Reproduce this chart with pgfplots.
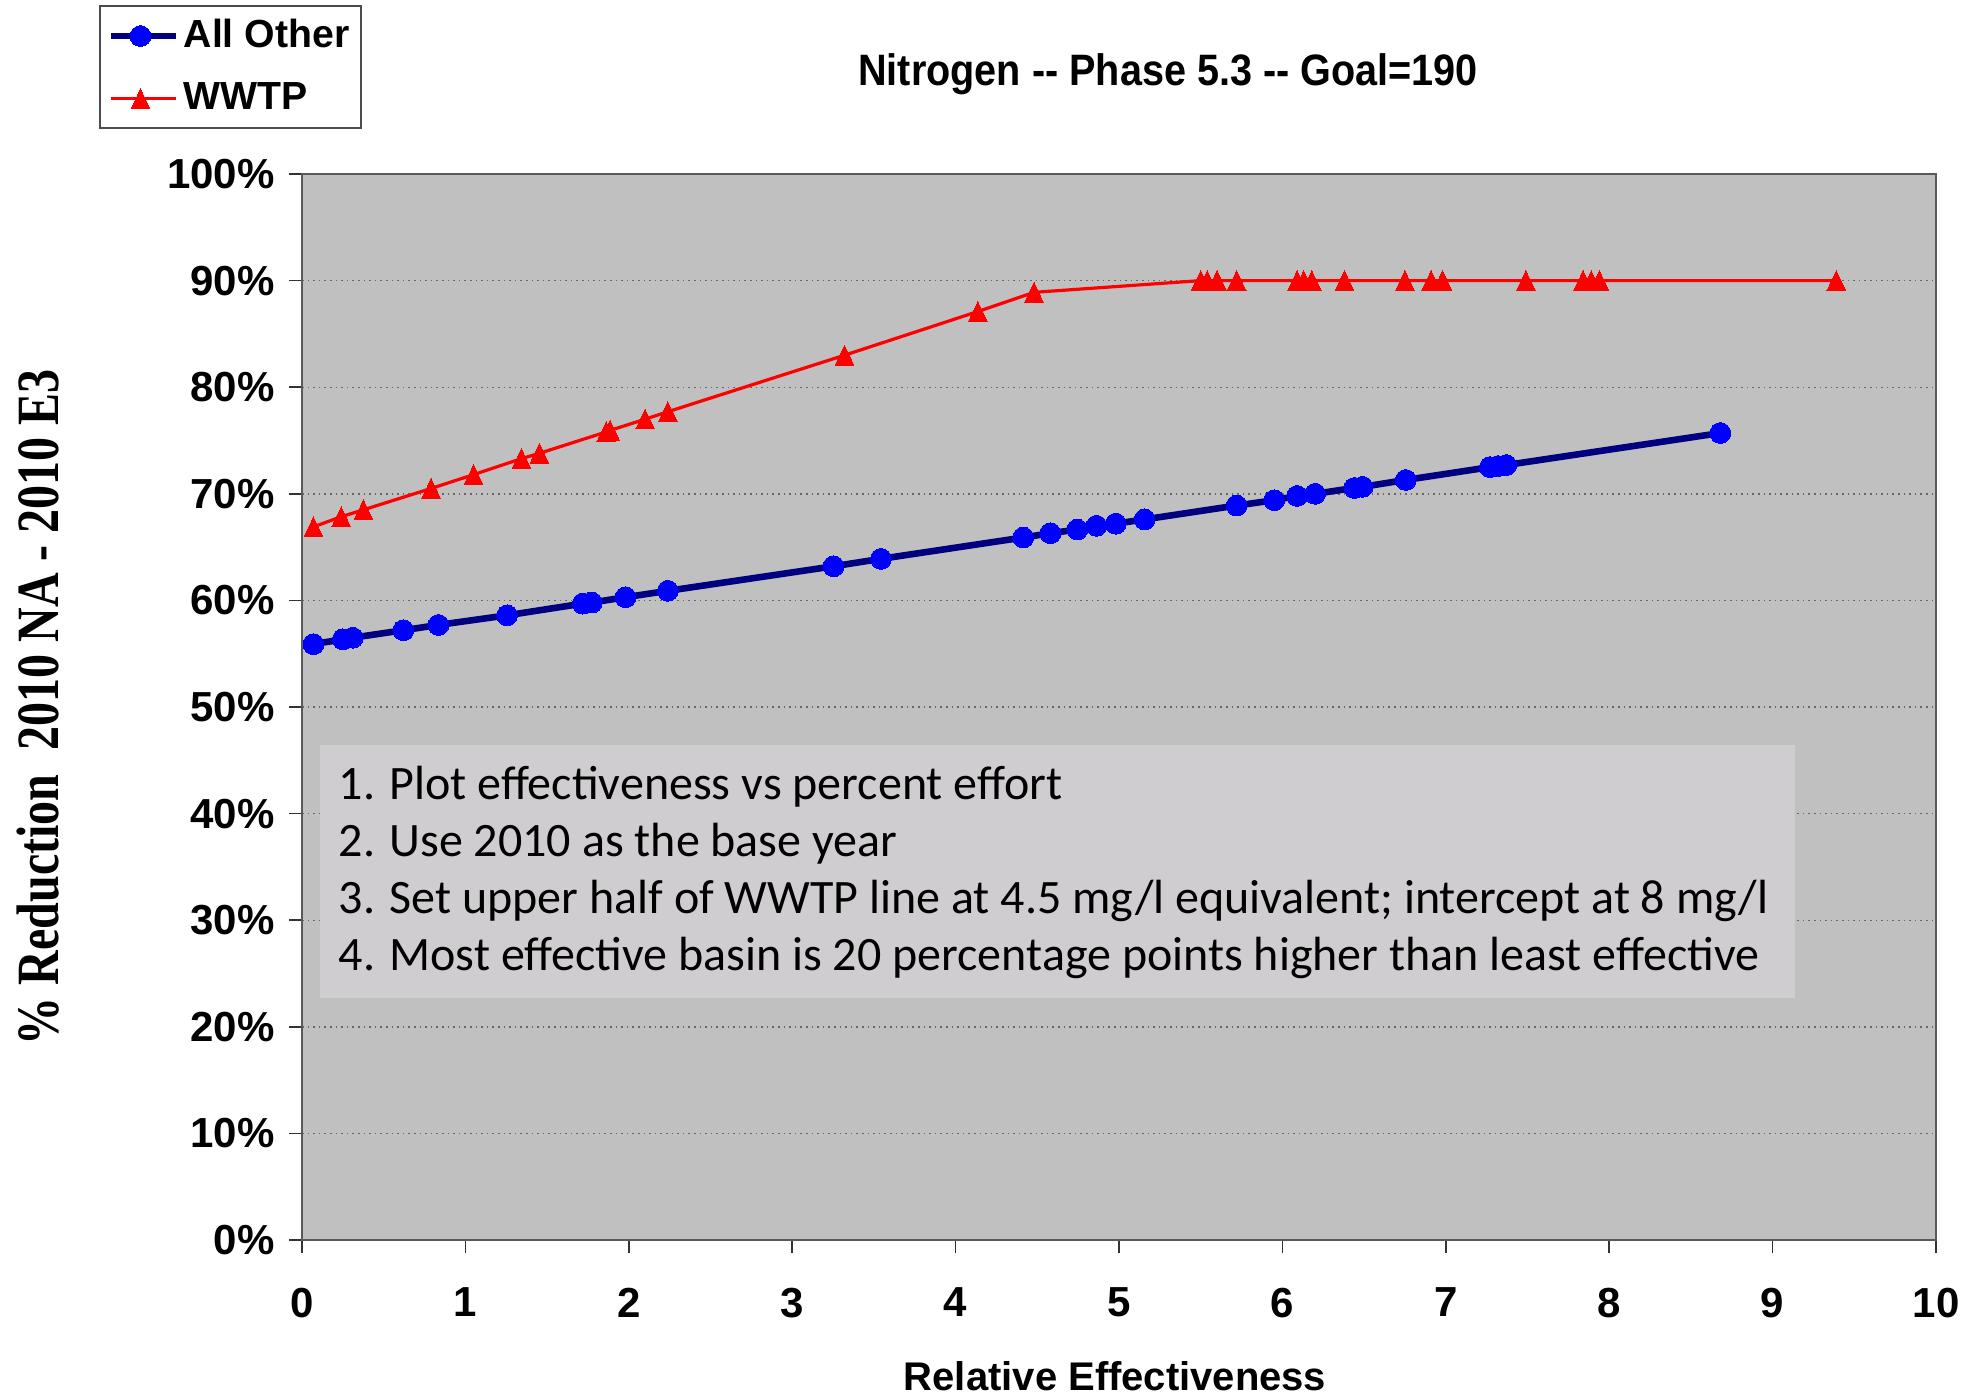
\documentclass[border=0pt]{standalone}
\usepackage{fontspec}
\setmainfont{Liberation Sans}
\newfontfamily\calibri{Carlito}
\newfontfamily\tnrn[FakeStretch=0.8]{Liberation Serif}
\newfontfamily\narrowsans[FakeStretch=0.9]{Liberation Sans}
\usepackage{pgfplots}
\pgfplotsset{compat=1.18}
\definecolor{bgGray}{RGB}{192,192,192}
\definecolor{boxGray}{RGB}{207,205,207}
\definecolor{navy}{RGB}{0,0,128}
\definecolor{pureblue}{RGB}{0,0,255}
\definecolor{purered}{RGB}{255,0,0}

\pgfplotstableread{
x y
0.07 55.9
0.25 56.35
0.31 56.5
0.62 57.2
0.835 57.7
1.255 58.6
1.718 59.7
1.774 59.8
1.98 60.3
2.239 60.9
3.253 63.2
3.543 63.9
4.414 65.9
4.58 66.3
4.745 66.65
4.862 67.0
4.98 67.2
5.157 67.6
5.72 68.9
5.95 69.4
6.09 69.8
6.20 70.0
6.44 70.55
6.49 70.65
6.755 71.3
7.27 72.5
7.32 72.6
7.37 72.7
8.68 75.7
}\allother

\pgfplotstableread{
x y
0.07 66.9
0.24 67.85
0.376 68.5
0.79 70.5
1.05 71.8
1.343 73.3
1.453 73.8
1.861 75.8
1.886 75.95
2.10 77.0
2.239 77.7
3.32 83.0
4.136 87.1
4.48 88.9
5.50 90
5.54 90
5.60 90
5.72 90
6.09 90
6.13 90
6.18 90
6.38 90
6.75 90
6.91 90
6.98 90
7.49 90
7.84 90
7.89 90
7.94 90
9.39 90
}\wwtp

\begin{document}
\begin{tikzpicture}
\useasboundingbox (0pt,0pt) rectangle (493pt,349.25pt);
\begin{axis}[
  at={(75.5pt,39.25pt)}, anchor=south west,
  scale only axis, width=408.5pt, height=266.5pt,
  xmin=0, xmax=10, ymin=0, ymax=100,
  xtick={0,1,...,10}, ytick={0,10,...,100},
  axis background/.style={fill=bgGray},
  ymajorgrids,
  major grid style={draw=black!60, densely dotted, line width=0.35pt},
  axis line style={draw=black!65, line width=0.6pt},
  tick align=outside, tick pos=left,
  major tick length=3.25pt,
  every tick/.style={draw=black!80, line width=0.4pt},
  /pgf/number format/assume math mode=true,
  tick label style={font=\fontsize{10.5}{12}\selectfont\bfseries},
  yticklabel={\pgfmathprintnumber{\tick}\%},
  yticklabel style={anchor=east, inner sep=0pt, xshift=-3.4pt},
  xticklabel style={anchor=north, inner sep=0pt, yshift=-8.5pt},
  title={Nitrogen -{}- Phase 5.3 -{}- Goal=190},
  title style={at={(axis description cs:0.53,1.0605)}, anchor=base, inner sep=0pt,
    font=\narrowsans\fontsize{11}{13}\selectfont\bfseries},
  xlabel={Relative Effectiveness},
  xlabel style={at={(axis description cs:0.4976,-0.1414)}, anchor=base, inner sep=0pt,
    font=\fontsize{10}{12}\selectfont\bfseries},
  ylabel={\%~Reduction\ \ 2010 NA - 2010 E3},
  ylabel style={at={(axis description cs:-0.1616,0.5)}, anchor=center, inner sep=0pt,
    font=\fontsize{15}{18}\tnrn\bfseries},
  legend style={at={(axis description cs:-0.1245,1.1585)}, anchor=north west,
    draw=black!70, line width=0.5pt, fill=white,
    font=\fontsize{9.8}{12}\selectfont\bfseries,
    inner xsep=2pt, inner ysep=2.2pt, row sep=5.25pt,
    nodes={inner sep=1pt},
    cells={anchor=west}},
  legend image code/.code={\path (0pt,0pt) -- (16.4pt,0pt);\draw[mark repeat=2,mark phase=2] plot coordinates {(0pt,0pt) (7.4pt,0pt) (14.75pt,0pt)};},
]
\addplot[draw=navy, line width=1.65pt, mark=*, mark size=2.6pt,
  mark options={fill=pureblue, draw=pureblue, line width=0pt}] table[x=x,y=y] {\allother};
\addlegendentry{All Other}
\addplot[draw=purered, line width=0.8pt, mark=triangle*, mark size=3.3pt,
  mark options={fill=purered, draw=purered, line width=0pt, xscale=0.82, yshift=-0.8pt}] table[x=x,y=y] {\wwtp};
\addlegendentry{WWTP}
\fill[boxGray] (rel axis cs:0.011,0.227) rectangle (rel axis cs:0.9137,0.4644);
\begin{scope}[every node/.style={anchor=base west, inner sep=0pt, font=\calibri\fontsize{12}{14}\selectfont}]
\node at (rel axis cs:0.022,0.4134) {1. Plot effectiveness vs percent effort};
\node at (rel axis cs:0.022,0.3596) {2. Use 2010 as the base year};
\node at (rel axis cs:0.022,0.3065) {3. Set upper half of WWTP line at 4.5 mg/l equivalent; intercept at 8 mg/l};
\node at (rel axis cs:0.022,0.2533) {4. Most effective basin is 20 percentage points higher than least effective};
\end{scope}
\end{axis}
\end{tikzpicture}
\end{document}
